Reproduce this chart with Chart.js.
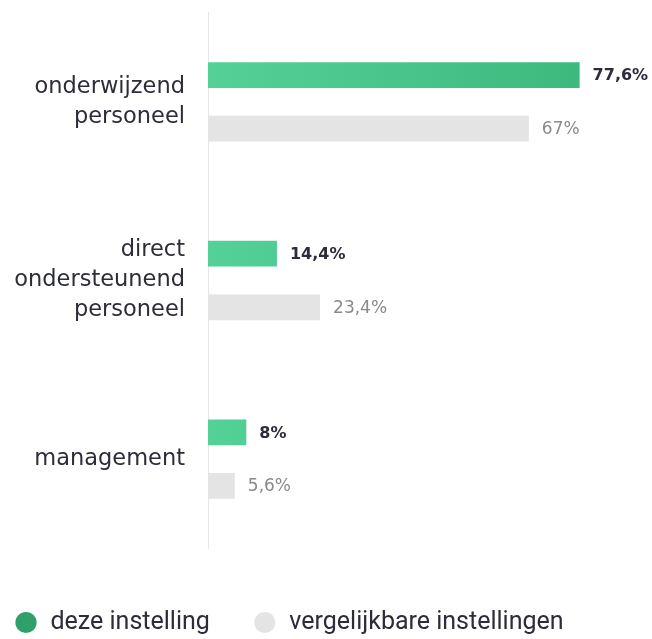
<!DOCTYPE html>
<html>
<head>
    <title>Personeel</title>
    <script src="https://cdn.jsdelivr.net/npm/chart.js"></script>
    <style>
        html, body { margin: 0; padding: 0; background: #fff; }
        #wrap { width: 652px; height: 639px; }
    </style>
</head>
<body>
    <div id="wrap">
        <canvas id="myChart"></canvas>
    </div>
    <script>
        const categories = [['onderwijzend', 'personeel'], ['direct', 'ondersteunend', 'personeel'], 'management'];
        const dezeInstelling = [77.6, 14.4, 8];
        const vergelijkbaar = [67, 23.4, 5.6];
        const seriesNames = ['deze instelling', 'vergelijkbare instellingen'];

        const green = '#46c68a';
        const legendGreen = '#2f9f6b';
        const grey = '#e4e4e4';

        function greenFill(context) {
            const area = context.chart.chartArea;
            if (!area) return green;
            const g = context.chart.ctx.createLinearGradient(area.left, 0, area.right, 0);
            g.addColorStop(0, '#54d197');
            g.addColorStop(1, '#38b67a');
            return g;
        }

        function fmt(v) {
            return String(v).replace('.', ',') + '%';
        }

        // waarden achter de balken
        const valueLabels = {
            id: 'valueLabels',
            afterDatasetsDraw(chart) {
                const ctx = chart.ctx;
                ctx.save();
                ctx.textBaseline = 'middle';
                ctx.textAlign = 'left';
                chart.data.datasets.forEach((ds, i) => {
                    const meta = chart.getDatasetMeta(i);
                    meta.data.forEach((bar, j) => {
                        ctx.font = i === 0 ? 'bold 16px "DejaVu Sans"' : '17px "DejaVu Sans"';
                        ctx.fillStyle = i === 0 ? '#2c2c3a' : '#8a8a8a';
                        ctx.fillText(fmt(ds.data[j]), bar.x + 13, bar.y + 1);
                    });
                });
                ctx.restore();
            }
        };

        const ctx = document.getElementById('myChart').getContext('2d');
        new Chart(ctx, {
            type: 'bar',
            data: {
                labels: categories,
                datasets: [
                    {
                        label: seriesNames[0],
                        data: dezeInstelling,
                        backgroundColor: greenFill,
                        categoryPercentage: 0.6,
                        barPercentage: 0.48
                    },
                    {
                        label: seriesNames[1],
                        data: vergelijkbaar,
                        backgroundColor: grey,
                        categoryPercentage: 0.6,
                        barPercentage: 0.48
                    }
                ]
            },
            options: {
                indexAxis: 'y',
                responsive: true,
                maintainAspectRatio: false,
                animation: false,
                layout: {
                    padding: { top: 12.5, right: 13, left: -29, bottom: -6 }
                },
                plugins: {
                    tooltip: { enabled: false },
                    legend: {
                        position: 'bottom',
                        align: 'start',
                        labels: {
                            usePointStyle: true,
                            pointStyle: 'circle',
                            boxWidth: 24,
                            boxHeight: 15,
                            padding: 43,
                            color: '#2c2c3a',
                            font: { family: 'Roboto', size: 25 },
                            generateLabels(chart) {
                                const items = Chart.defaults.plugins.legend.labels.generateLabels(chart);
                                items.forEach((it, i) => {
                                    it.fillStyle = i === 0 ? legendGreen : grey;
                                    it.strokeStyle = i === 0 ? legendGreen : grey;
                                    it.lineWidth = 0;
                                });
                                return items;
                            }
                        }
                    }
                },
                scales: {
                    x: {
                        display: true,
                        min: 0,
                        max: 90,
                        grid: { display: false },
                        border: { display: false },
                        ticks: { display: false },
                        afterFit(scale) {
                            scale.height = 18.5;
                            scale.paddingLeft = 0;
                            scale.paddingRight = 0;
                        }
                    },
                    y: {
                        grid: { display: false },
                        border: { display: true, color: '#e6e6e6', width: 1 },
                        ticks: {
                            color: '#2c2c3a',
                            padding: 15,
                            font: { family: 'DejaVu Sans', size: 22.5, lineHeight: 1.333 }
                        },
                        afterFit(scale) {
                            scale.width = 237;
                            scale.paddingTop = 0;
                            scale.paddingBottom = 0;
                        }
                    }
                }
            },
            plugins: [valueLabels]
        });
    </script>
</body>
</html>
